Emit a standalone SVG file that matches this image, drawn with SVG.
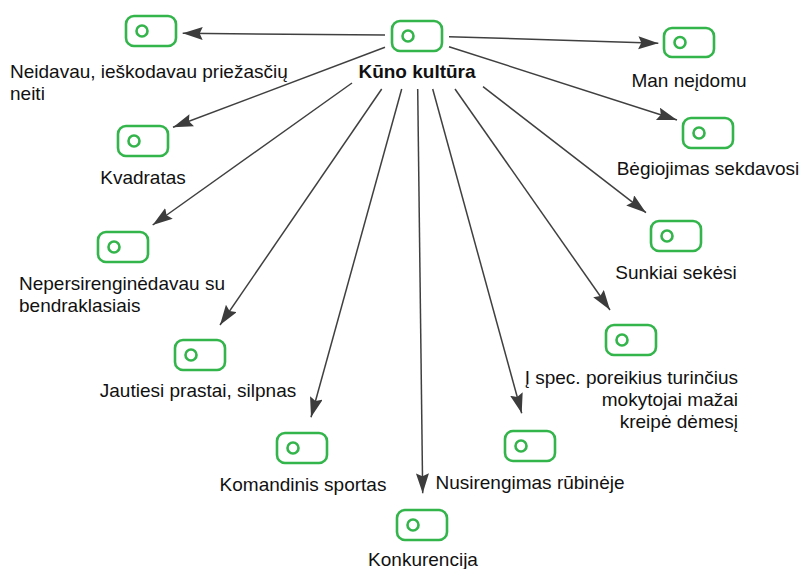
<svg xmlns="http://www.w3.org/2000/svg" width="803" height="569" viewBox="0 0 803 569">
<defs>
<style>
.n rect{fill:#fff;stroke:#34b54c;stroke-width:2.6}
.n circle{fill:none;stroke:#34b54c;stroke-width:2.6}
.t{font-family:"Liberation Sans",Arial,sans-serif;font-size:19px;fill:#111}
.c{text-anchor:middle}
.e line{stroke:#404040;stroke-width:1.5;marker-end:url(#ah)}
</style>
<marker id="ah" markerUnits="userSpaceOnUse" markerWidth="22" markerHeight="16" refX="20" refY="6.5" orient="auto">
<path d="M0,0 L20,6.5 L0,13 L3,6.5 Z" fill="#3c3c3c"/>
</marker>
</defs>
<rect width="803" height="569" fill="#fff"/>
<g id="connectors" class="e">
<line x1="385" y1="35" x2="182.7" y2="33.3"/>
<line x1="449" y1="36.7" x2="658.3" y2="43.3"/>
<line x1="449" y1="46.7" x2="677" y2="120"/>
<line x1="385" y1="47.3" x2="173" y2="127.3"/>
<line x1="352" y1="83" x2="152.7" y2="225"/>
<line x1="381.7" y1="89" x2="220" y2="325"/>
<line x1="401.7" y1="89" x2="311" y2="417.3"/>
<line x1="417.7" y1="89" x2="422.7" y2="493.3"/>
<line x1="432.7" y1="89" x2="521.7" y2="413.3"/>
<line x1="455" y1="89" x2="610" y2="310"/>
<line x1="483" y1="86.7" x2="646" y2="212.7"/>
</g>
<g id="center" class="n">
<rect x="392" y="21" width="50" height="30" rx="8"/>
<circle cx="408" cy="36" r="5.5"/>
<text class="t c" x="417" y="78" font-weight="bold">Kūno kultūra</text>
</g>
<g id="n-neidavau" class="n">
<rect x="126" y="16" width="50" height="30" rx="8"/>
<circle cx="142" cy="31" r="5.5"/>
<text class="t" x="10" y="78">Neidavau, ieškodavau priežasčių</text>
<text class="t" x="10" y="100">neiti</text>
</g>
<g id="n-man" class="n">
<rect x="664" y="28" width="50" height="29" rx="8"/>
<circle cx="680" cy="42.5" r="5.5"/>
<text class="t c" x="689" y="87">Man neįdomu</text>
</g>
<g id="n-begiojimas" class="n">
<rect x="683" y="118" width="50" height="30" rx="8"/>
<circle cx="699" cy="133" r="5.5"/>
<text class="t c" x="708" y="175">Bėgiojimas sekdavosi</text>
</g>
<g id="n-kvadratas" class="n">
<rect x="118" y="126" width="50" height="30" rx="8"/>
<circle cx="134" cy="141" r="5.5"/>
<text class="t c" x="143" y="184">Kvadratas</text>
</g>
<g id="n-nepersirengine" class="n">
<rect x="98" y="232" width="50" height="30" rx="8"/>
<circle cx="114" cy="247" r="5.5"/>
<text class="t" x="19" y="290">Nepersirenginėdavau su</text>
<text class="t" x="19" y="312">bendraklasiais</text>
</g>
<g id="n-sunkiai" class="n">
<rect x="651" y="221" width="50" height="30" rx="8"/>
<circle cx="667" cy="236" r="5.5"/>
<text class="t c" x="676" y="279">Sunkiai sekėsi</text>
</g>
<g id="n-spec" class="n">
<rect x="606" y="325" width="50" height="30" rx="8"/>
<circle cx="622" cy="340" r="5.5"/>
<text class="t" x="738" y="384" text-anchor="end">Į spec. poreikius turinčius</text>
<text class="t" x="738" y="406" text-anchor="end">mokytojai mažai</text>
<text class="t" x="738" y="428" text-anchor="end">kreipė dėmesį</text>
</g>
<g id="n-jautiesi" class="n">
<rect x="175" y="340" width="50" height="30" rx="8"/>
<circle cx="191" cy="355" r="5.5"/>
<text class="t c" x="198" y="397">Jautiesi prastai, silpnas</text>
</g>
<g id="n-komandinis" class="n">
<rect x="277" y="433" width="50" height="30" rx="8"/>
<circle cx="293" cy="448" r="5.5"/>
<text class="t c" x="303" y="491">Komandinis sportas</text>
</g>
<g id="n-nusirengimas" class="n">
<rect x="505" y="431" width="50" height="30" rx="8"/>
<circle cx="521" cy="446" r="5.5"/>
<text class="t c" x="530" y="489">Nusirengimas rūbinėje</text>
</g>
<g id="n-konkurencija" class="n">
<rect x="397" y="510" width="50" height="30" rx="8"/>
<circle cx="413" cy="525" r="5.5"/>
<text class="t c" x="423" y="566">Konkurencija</text>
</g>
</svg>
